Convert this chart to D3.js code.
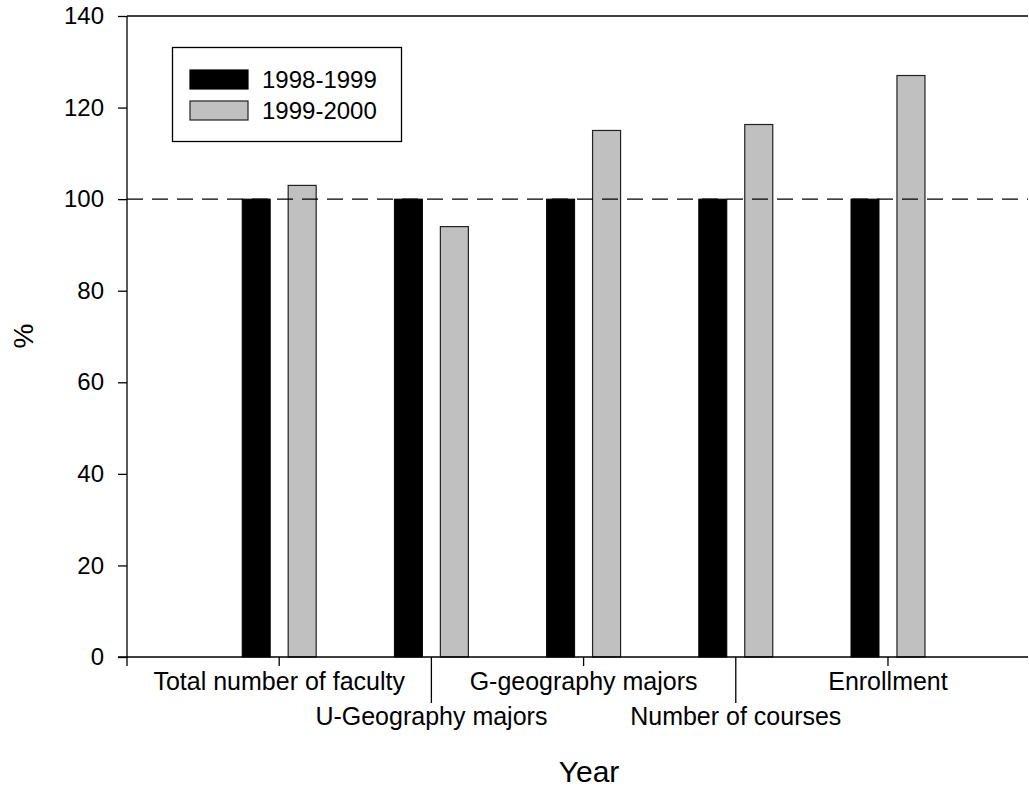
<!DOCTYPE html>
<html>
<head>
<meta charset="utf-8">
<script src="https://cdn.jsdelivr.net/npm/d3@7"></script>
<style>
  html, body { margin: 0; padding: 0; background: #fff; }
  svg { display: block; font-family: "Liberation Sans", Arial, sans-serif; }
</style>
</head>
<body>
<svg id="chart" width="1029" height="788"></svg>
<script>
const categories = ["Total number of faculty", "U-Geography majors", "G-geography majors", "Number of courses", "Enrollment"];
const series1Name = "1998-1999";
const series2Name = "1999-2000";
const series1 = [100, 100, 100, 100, 100];
const series2 = [103, 94, 115, 116.3, 127];
const yTicks = [0, 20, 40, 60, 80, 100, 120, 140];
const referenceValue = 100;

const svg = d3.select("#chart");
const mLeft = 127, mRight = 1028, mTop = 16, mBottom = 657;

const y = d3.scaleLinear().domain([0, 140]).range([mBottom, mTop]);
const x = d3.scaleLinear().domain([0, 5.92]).range([mLeft, mRight]);
const barW = x(0.184) - x(0);
const off = 0.243;

// top frame line
svg.append("line").attr("x1", mLeft).attr("x2", mRight).attr("y1", mTop).attr("y2", mTop)
  .attr("stroke", "#000").attr("stroke-width", 1.3);

// bars
const g = svg.append("g");
categories.forEach((c, i) => {
  const cx = i + 1;
  g.append("rect")
    .attr("x", x(cx - off)).attr("y", y(series1[i]))
    .attr("width", barW).attr("height", y(0) - y(series1[i]))
    .attr("fill", "#000").attr("stroke", "#000").attr("stroke-width", 1);
  g.append("rect")
    .attr("x", x(cx + off) - barW).attr("y", y(series2[i]))
    .attr("width", barW).attr("height", y(0) - y(series2[i]))
    .attr("fill", "#c0c0c0").attr("stroke", "#222").attr("stroke-width", 1.2);
});

// reference dashed line
svg.append("line")
  .attr("x1", mLeft).attr("x2", mRight)
  .attr("y1", y(referenceValue)).attr("y2", y(referenceValue))
  .attr("stroke", "#000").attr("stroke-width", 1.3)
  .attr("stroke-dasharray", "16,9");

// y axis
const yAxis = d3.axisLeft(y).tickValues(yTicks).tickSize(9).tickPadding(14).tickFormat(d3.format("d"));
const ya = svg.append("g").attr("transform", `translate(${mLeft},0)`).call(yAxis);
ya.select(".domain").attr("stroke-width", 1.3).attr("d", `M-9,${mBottom}H0V${mTop}`);
ya.selectAll(".tick line").attr("stroke-width", 1.3);
ya.selectAll(".tick text").attr("font-size", 24).attr("fill", "#000")
  .attr("font-family", "'Liberation Sans', Arial, sans-serif");

// x axis
const xa = svg.append("g").attr("transform", `translate(0,${mBottom})`);
xa.append("line").attr("x1", mLeft).attr("x2", mRight).attr("y1", 0).attr("y2", 0)
  .attr("stroke", "#000").attr("stroke-width", 1.3);
xa.append("line").attr("x1", x(0)).attr("x2", x(0)).attr("y1", 0).attr("y2", 9)
  .attr("stroke", "#000").attr("stroke-width", 1.3);
categories.forEach((c, i) => {
  const cx = x(i + 1);
  const lower = i % 2 === 1;
  xa.append("line").attr("x1", cx).attr("x2", cx).attr("y1", 0).attr("y2", lower ? 46 : 9)
    .attr("stroke", "#000").attr("stroke-width", 1.3);
  xa.append("text").attr("x", cx).attr("y", lower ? 68 : 33)
    .attr("text-anchor", "middle").attr("font-size", 25).attr("fill", "#000")
    .text(c);
});

// axis titles
svg.append("text").attr("x", 589).attr("y", 782).attr("text-anchor", "middle")
  .attr("font-size", 30).attr("fill", "#000").text("Year");
svg.append("text").attr("transform", `translate(33,336) rotate(-90)`)
  .attr("text-anchor", "middle").attr("font-size", 28).attr("fill", "#000").text("%");

// legend
const lg = svg.append("g");
lg.append("rect").attr("x", 172.5).attr("y", 47.5).attr("width", 229).attr("height", 94)
  .attr("fill", "#fff").attr("stroke", "#000").attr("stroke-width", 1.3);
[[series1Name, "#000", "#000"], [series2Name, "#c0c0c0", "#222"]].forEach((s, i) => {
  const yy = 70 + i * 31;
  lg.append("rect").attr("x", 190).attr("y", yy).attr("width", 58).attr("height", 19)
    .attr("fill", s[1]).attr("stroke", s[2]).attr("stroke-width", 1.2);
  lg.append("text").attr("x", 262).attr("y", yy + 17.5).attr("font-size", 24)
    .attr("fill", "#000").text(s[0]);
});
</script>
</body>
</html>
